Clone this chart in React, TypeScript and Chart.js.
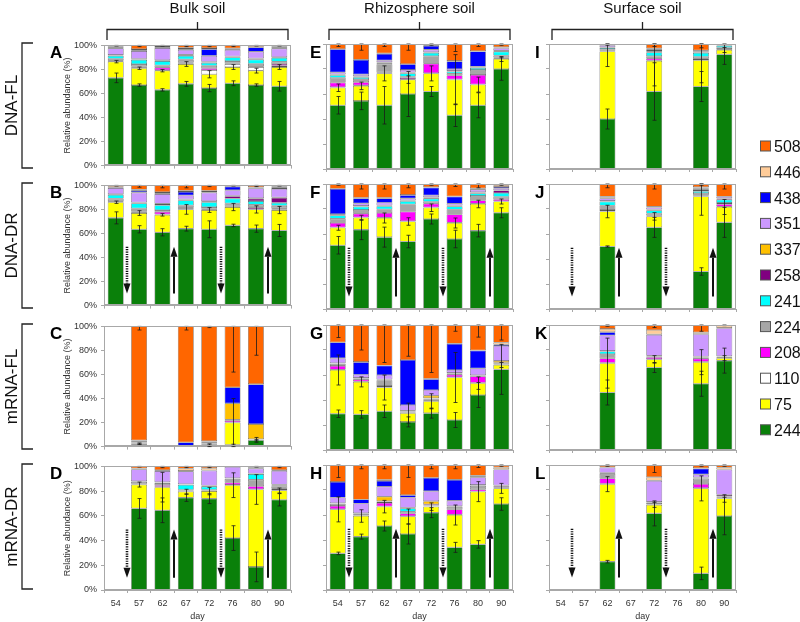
import React, { useEffect, useRef } from "react";
import { Chart, registerables } from "chart.js";

Chart.register(...registerables);

const FONT = "'Liberation Sans', Arial, Helvetica, sans-serif";

// ---------- data ----------
const days = ["54", "57", "62", "67", "72", "76", "80", "90"];
const otus = ["244", "75", "110", "208", "224", "241", "258", "337", "351", "438", "446", "508"];
const otuColors = ["#0A800A", "#FFFF00", "#FFFFFF", "#FF00FF", "#A6A6A6", "#00FFFF", "#800080", "#FFC000", "#CC99FF", "#0000FF", "#FFCC99", "#FF6600"];
const yTicks = [0, 20, 40, 60, 80, 100];

// each row: relative abundance (%) of [244,75,110,208,224,241,258,337,351,438,446,508]; null = no sample
type Row = number[] | null;
const panelA: Row[] = [
  [73, 13.5, 0.5, 0.3, 1.5, 2.5, 0.5, 0.3, 5.5, 0.5, 0.9, 1],
  [67, 14, 0.5, 1, 2, 3.5, 0.5, 0.3, 6.5, 0.7, 1, 3],
  [63, 16, 0.5, 2, 2, 3.5, 0.5, 0.3, 10, 0.7, 1, 0.5],
  [68, 16.5, 0.5, 0.8, 2.5, 3, 0.7, 0.3, 4, 0.7, 1, 2],
  [64.5, 11.5, 3.5, 1.5, 2, 2.5, 0.5, 0.3, 5, 5.5, 1, 2.2],
  [68.5, 13.5, 2.5, 0.5, 2, 3, 0.5, 0.3, 5.5, 0.7, 0.5, 2.5],
  [67, 12, 3, 0.7, 2, 3.5, 0.8, 0.3, 5.5, 3.5, 0.5, 1.2],
  [66, 16, 1, 1.5, 2, 3, 0.5, 0.3, 7, 0.7, 1, 1],
];
const panelE: Row[] = [
  [51, 14, 0.5, 3.5, 4, 2, 0.5, 0.3, 1.5, 18.5, 0.2, 4],
  [54.5, 12, 0.5, 2.5, 2.5, 1.5, 0.5, 0.3, 1.5, 11.5, 0.2, 12.5],
  [51, 25.5, 0.3, 0.5, 6.5, 0.5, 1, 0.2, 1.5, 5, 0.5, 7.5],
  [60, 11.5, 0.5, 1, 1, 2.5, 0.5, 0.3, 2, 4.5, 0.2, 16],
  [62, 14.5, 0.3, 7.5, 6, 2.5, 0.5, 0.2, 2, 3, 0.5, 1],
  [43, 28.5, 0.3, 3, 1.5, 1.5, 0.5, 0.2, 1.5, 6, 0.5, 13.5],
  [51, 16.5, 0.3, 7.5, 4, 1.5, 0.5, 0.2, 0.5, 12, 0.3, 5.7],
  [80, 8, 0.3, 1, 1.5, 3, 0.7, 0.2, 2, 0.3, 0.5, 2.5],
];
const panelI: Row[] = [
  null, null,
  [40, 54, 0.3, 0.5, 1, 1, 0.5, 0.2, 1.5, 0.3, 0.2, 0.5],
  null,
  [62, 24.5, 0.3, 1.5, 2, 3, 1, 0.2, 1, 0.5, 0.5, 3.5],
  null,
  [66, 21, 0.3, 1, 1.5, 3, 0.5, 0.2, 0.5, 0.5, 0.5, 5],
  [91.7, 3.5, 0.3, 0.5, 1, 1.5, 0.3, 0.2, 0.5, 0.2, 0.2, 0.1],
];
const panelB: Row[] = [
  [73, 13, 0.5, 0.5, 2, 3, 0.5, 0.3, 5, 0.5, 0.5, 1.2],
  [63.5, 13.5, 0.3, 1, 2.7, 4, 0.5, 0.5, 8, 1.5, 1, 3.5],
  [61, 14.5, 0.5, 2, 1.5, 4, 1, 0.3, 8, 0.7, 1, 5.5],
  [64, 16, 0.5, 1, 2, 4, 0.5, 0.3, 3.5, 2.7, 1, 4.5],
  [63.5, 16, 0.3, 0.7, 1.5, 4, 0.5, 0.5, 7, 0.5, 1, 4.5],
  [66.7, 15.3, 0.5, 0.5, 2, 4, 2, 0.3, 4.7, 3, 0.5, 0.5],
  [64, 16, 0.3, 1.2, 2.5, 3, 2, 0.5, 8, 0.5, 0.5, 1.5],
  [62.5, 17, 0.5, 1, 2, 2.5, 4, 0.5, 7, 1, 1, 1],
];
const panelF: Row[] = [
  [51, 14, 0.3, 3.5, 3.5, 2.5, 0.5, 0.2, 0.5, 20, 0.2, 3.8],
  [63.5, 9.5, 0.3, 3, 3, 2.5, 0.5, 0.2, 2, 4, 0.5, 11],
  [57.5, 15.3, 0.3, 3.7, 3, 2.5, 0.5, 0.2, 2, 3.5, 0.5, 11],
  [54, 16, 0.3, 7.5, 6, 2.5, 0.5, 0.2, 1.5, 2.5, 0.3, 8.7],
  [72, 9, 0.3, 3, 1.5, 2.5, 1, 0.2, 1.5, 6, 0.5, 2.5],
  [56, 12.8, 0.3, 6.5, 4, 2.5, 0.5, 0.2, 1.5, 5.5, 0.3, 9.9],
  [62.7, 21.3, 0.3, 2.5, 3.7, 2, 0.5, 0.5, 2, 0.5, 0.5, 3.5],
  [77, 9, 0.3, 1.5, 2, 3, 2, 0.3, 1.5, 1, 1, 1.4],
];
const panelJ: Row[] = [
  null, null,
  [50, 28, 0.3, 1, 3.5, 3, 0.5, 0.2, 2, 0.5, 1, 10],
  null,
  [65.3, 8.8, 0.3, 0.5, 1.5, 2.5, 0.5, 0.2, 1.5, 0.3, 0.5, 18.1],
  null,
  [30, 60, 0.3, 0.5, 2, 1.5, 1, 0.2, 1, 0.5, 0.5, 2.5],
  [69.3, 12.3, 0.3, 2, 1, 2.5, 1, 0.3, 1.3, 0, 0, 10],
];
const panelC: Row[] = [
  null,
  [1.5, 1, 0.3, 0.3, 0.3, 0, 1, 0.3, 0, 0.3, 0.3, 94.7],
  null,
  [0, 0, 0, 0, 0, 0, 0, 0, 0, 3.5, 0, 96.5],
  [0.3, 1.5, 0.3, 0.3, 0.3, 0, 1, 0.3, 0, 0.5, 0, 95.5],
  [1.5, 18.5, 0.3, 1.5, 0.3, 0, 0.3, 13.6, 0, 13.3, 0, 50.7],
  [5.3, 0.3, 0, 0, 0.3, 0, 0.3, 12.5, 0, 33, 0.3, 48],
  null,
];
const panelG: Row[] = [
  [29, 35, 0.3, 3, 1.5, 0.2, 0.3, 0.2, 4, 12.6, 0, 13.9],
  [28.5, 26, 0.3, 1.5, 0.5, 0.2, 0.5, 0.2, 2.5, 10, 0.3, 29.5],
  [31, 19, 0.3, 1, 4.5, 0.2, 0.3, 0.2, 3.5, 7.4, 0.2, 32.4],
  [22.5, 7, 0.3, 0.3, 0.3, 0.2, 0.5, 0.4, 4.5, 36, 0, 28],
  [29.5, 9.5, 0.5, 1, 0.5, 0.2, 0.3, 2, 4.5, 8.7, 0.3, 43],
  [24, 34, 0.3, 2, 0.5, 0.2, 0.5, 0.2, 2.3, 20.8, 0.4, 14.8],
  [44, 9.5, 0.3, 5, 0.5, 0.2, 0.3, 0.2, 5.3, 14.2, 0.3, 20.5],
  [64.5, 3.5, 0.2, 0.2, 1, 0.2, 0.2, 1.5, 12, 1.2, 1.5, 14],
];
const panelK: Row[] = [
  null, null,
  [46, 23.5, 0.3, 3.5, 3.5, 2, 0.3, 0.2, 12.5, 2.5, 2.6, 3.1],
  null,
  [66, 6.5, 0.3, 1.5, 0.3, 0.2, 0.5, 0.2, 16.5, 0.5, 3.5, 4],
  null,
  [53, 17.3, 0.3, 2.5, 1, 0.2, 0.3, 0.2, 17.9, 0.3, 1.2, 5.8],
  [71.5, 2, 0.2, 0.5, 0.5, 0.1, 0.2, 0.2, 22.3, 0.2, 1.8, 0.5],
];
const panelD: Row[] = [
  null,
  [66, 19.3, 0.3, 0.3, 1.5, 0.2, 0.3, 0.2, 9.4, 0.5, 0.5, 1.5],
  [64.5, 18.7, 0.3, 1.3, 1.7, 0.2, 0.3, 0.2, 9, 0.3, 0.5, 3],
  [74.7, 4.8, 1, 0.3, 0.3, 4, 0.3, 0.2, 10.4, 0.3, 2, 1.7],
  [73.9, 6.1, 0.3, 0.3, 0.5, 2.5, 0.7, 0.2, 12, 0.3, 1.8, 1.4],
  [42, 42.8, 0.2, 1.9, 3, 0.2, 0.2, 0.2, 9, 0.2, 0.3, 0],
  [18.7, 62.6, 0.3, 2.4, 5.3, 4.5, 0.2, 0.2, 4, 0.2, 0.8, 0.8],
  [73, 7.5, 0.5, 1, 2, 0.5, 0.5, 0.3, 11, 0.2, 0.5, 3],
];
const panelH: Row[] = [
  [29.3, 35.2, 0.3, 2.5, 1.5, 0.2, 0.3, 0.2, 4.5, 12.5, 0, 13.5],
  [42.7, 16.5, 0.3, 0.3, 0.3, 0.2, 1, 0.2, 7.7, 3.2, 0, 27.6],
  [51.2, 15.5, 0.3, 2.7, 1, 0.2, 0.3, 3.5, 8, 4.5, 1, 11.8],
  [44.8, 14, 0.4, 2, 1.5, 2.5, 0.5, 0.3, 8, 1.8, 0.2, 24],
  [61.9, 4.8, 0.2, 0.2, 0.3, 0.2, 1, 2.5, 8, 10.5, 0.2, 10.2],
  [34.1, 25.9, 0.3, 4.2, 2, 0.2, 0.3, 0.2, 4.3, 16.5, 0.3, 11.7],
  [36.5, 42.2, 0.3, 1.5, 2.7, 0.2, 0.5, 0.2, 6, 1, 0.5, 8.4],
  [68.8, 12.5, 0.3, 0.5, 0.3, 0.2, 1, 0.2, 12.7, 0.2, 1.5, 1.8],
];
const panelL: Row[] = [
  null, null,
  [22.7, 62, 0.3, 4.2, 3.7, 0.2, 0.5, 0.2, 4, 0.3, 0.3, 1.6],
  null,
  [61.3, 6.8, 0.2, 0.3, 1, 0.2, 0.5, 0.2, 16.8, 0.3, 2.7, 9.7],
  null,
  [13.3, 68, 0.3, 3.2, 4.3, 0.3, 0.5, 0.2, 2.4, 4.5, 0.5, 2.5],
  [59.2, 14, 0.3, 0.5, 0.8, 0.2, 1, 0.2, 20, 0.3, 1.5, 2],
];

// error bars (± %) on the tops of OTU 244, 75 and 508 segments
const errOtus = ["244", "75", "508"];
type Err = number[] | null;
const errA: Err[] = [[4, 1, 0.5], [1, 1, 1], [1, 1, 0.5], [2, 2, 1], [3, 3, 1], [2, 2, 1], [1, 2, 0.5], [4, 2, 0.5]];
const errE: Err[] = [[7, 3, 2], [7, 3, 5], [15, 6, 2], [18, 3, 5], [4, 6, 1], [9, 20, 6], [10, 6, 2], [9, 2, 1]];
const errI: Err[] = [null, null, [8, 12, 1], null, [23, 20, 2], null, [12, 18, 3], [8, 2, 0.5]];
const errB: Err[] = [[5, 1, 0.5], [3, 2, 1.5], [3, 1, 2], [2, 4, 2], [7, 2, 1], [1, 3, 0.5], [3, 3, 1], [5, 3, 0.5]];
const errF: Err[] = [[7, 2, 1], [8, 2, 4], [8, 4, 4], [5, 3, 3], [4, 3, 1], [7, 4, 2], [5, 3, 3], [4, 2, 1]];
const errJ: Err[] = [null, null, [0.5, 5, 3], null, [8, 3, 4], null, [3, 15, 1], [12, 6, 4]];
const errC: Err[] = [null, [0.5, 0.5, 3], null, [0, 0, 3], [0.5, 0.5, 1], [0.5, 20, 38], [0.5, 2, 24], null];
const errG: Err[] = [[3, 12, 10], [3, 4, 20], [5, 10, 30], [4, 8, 25], [4, 6, 38], [6, 20, 5], [10, 5, 10], [20, 2, 12]];
const errK: Err[] = [null, null, [10, 20, 1], null, [4, 3, 2], null, [10, 10, 5], [10, 2, 0.5]];
const errD: Err[] = [null, [8, 2, 0.5], [10, 12, 1], [3, 2, 1], [4, 3, 1], [10, 10, 0.5], [12, 12, 0.5], [5, 2, 1]];
const errH: Err[] = [[1, 10, 10], [2, 5, 3], [4, 5, 3], [8, 6, 10], [4, 3, 3], [4, 8, 3], [3, 8, 2], [5, 4, 1]];
const errL: Err[] = [null, null, [1, 6, 1], null, [10, 2, 6], null, [5, 10, 1], [15, 3, 1]];

// arrows in the DR rows: after which day index, and direction
const arrowMarks = [
  { after: 0, kind: "down" },
  { after: 2, kind: "up" },
  { after: 4, kind: "down" },
  { after: 6, kind: "up" },
];
const arrowRange = [10, 49];

const colTitles = ["Bulk soil", "Rhizosphere soil", "Surface soil"];
const rowTitles = ["DNA-FL", "DNA-DR", "mRNA-FL", "mRNA-DR"];

const panels = [
  { letter: "A", rows: panelA, errs: errA, col: 0, row: 0 },
  { letter: "E", rows: panelE, errs: errE, col: 1, row: 0 },
  { letter: "I", rows: panelI, errs: errI, col: 2, row: 0 },
  { letter: "B", rows: panelB, errs: errB, col: 0, row: 1 },
  { letter: "F", rows: panelF, errs: errF, col: 1, row: 1 },
  { letter: "J", rows: panelJ, errs: errJ, col: 2, row: 1 },
  { letter: "C", rows: panelC, errs: errC, col: 0, row: 2 },
  { letter: "G", rows: panelG, errs: errG, col: 1, row: 2 },
  { letter: "K", rows: panelK, errs: errK, col: 2, row: 2 },
  { letter: "D", rows: panelD, errs: errD, col: 0, row: 3 },
  { letter: "H", rows: panelH, errs: errH, col: 1, row: 3 },
  { letter: "L", rows: panelL, errs: errL, col: 2, row: 3 },
];

// ---------- layout ----------
const colLeft = [104, 326, 549];
const rowTop = [44, 184, 325, 465];
const PW = 187;
const PH = 125;
const PAD_T = 8;
const PAD_R = 4;
const letterX = [50, 310, 535];

function drawArrow(ctx: CanvasRenderingContext2D, x: number, yTail: number, yTip: number, dotted: boolean) {
  const dir = Math.sign(yTip - yTail);
  const headLen = 10;
  const headW = 3.5;
  ctx.save();
  ctx.strokeStyle = "#111";
  ctx.fillStyle = "#111";
  ctx.lineWidth = dotted ? 2.6 : 2;
  if (dotted) ctx.setLineDash([1.2, 1.2]);
  ctx.beginPath();
  ctx.moveTo(x, yTail);
  ctx.lineTo(x, yTip - dir * headLen);
  ctx.stroke();
  ctx.setLineDash([]);
  ctx.beginPath();
  ctx.moveTo(x, yTip);
  ctx.lineTo(x - headW, yTip - dir * headLen);
  ctx.lineTo(x + headW, yTip - dir * headLen);
  ctx.closePath();
  ctx.fill();
  ctx.restore();
}

function Panel({ def }: { def: (typeof panels)[number] }) {
  const ref = useRef<HTMLCanvasElement | null>(null);
  const { col, row } = def;
  const YW = col === 0 ? 42 : 8;
  const XH = row === 3 ? 32 : 6;
  const left = colLeft[col] - YW;
  const top = rowTop[row] - PAD_T;
  const w = YW + PW + PAD_R;
  const h = PAD_T + PH + XH;
  const isDR = row === 1 || row === 3;

  useEffect(() => {
    if (!ref.current) return;
    const rows = def.rows;
    const errs = def.errs;
    const errIdx = errOtus.map((o) => otus.indexOf(o));

    const overlay = {
      id: "overlay",
      afterDatasetsDraw(chart: any) {
        const ctx: CanvasRenderingContext2D = chart.ctx;
        const xs = chart.scales.x;
        const ys = chart.scales.y;
        const a = chart.chartArea;
        // error bars
        ctx.save();
        ctx.strokeStyle = "#1a1a1a";
        ctx.lineWidth = 0.8;
        rows.forEach((r, i) => {
          const e = errs[i];
          if (!r || !e) return;
          const px = Math.round(xs.getPixelForValue(i)) + 0.5;
          errIdx.forEach((k, j) => {
            if (!(r[k] > 0) || !(e[j] > 0)) return;
            let cum = 0;
            for (let q = 0; q <= k; q++) cum += r[q];
            const y1 = ys.getPixelForValue(Math.min(100, cum + e[j]));
            const y2 = ys.getPixelForValue(Math.max(0, cum - e[j]));
            ctx.beginPath();
            ctx.moveTo(px, y1);
            ctx.lineTo(px, y2);
            ctx.moveTo(px - 2, y1);
            ctx.lineTo(px + 2, y1);
            ctx.moveTo(px - 2, y2);
            ctx.lineTo(px + 2, y2);
            ctx.stroke();
          });
        });
        ctx.restore();
        // arrows
        if (isDR) {
          arrowMarks.forEach((m) => {
            const x = Math.round((xs.getPixelForValue(m.after) + xs.getPixelForValue(m.after + 1)) / 2);
            const yLow = ys.getPixelForValue(arrowRange[0]);
            const yHigh = ys.getPixelForValue(arrowRange[1]);
            if (m.kind === "down") drawArrow(ctx, x, yHigh, yLow, true);
            else drawArrow(ctx, x, yLow, yHigh, false);
          });
        }
        // frame
        ctx.save();
        ctx.strokeStyle = "#A8A8A8";
        ctx.lineWidth = 1;
        ctx.strokeRect(Math.round(a.left) + 0.5, Math.round(a.top) + 0.5, Math.round(a.right - a.left) - 1, Math.round(a.bottom - a.top) - 1);
        ctx.restore();
      },
    };

    const chart = new Chart(ref.current, {
      type: "bar",
      data: {
        labels: days,
        datasets: otus.map((o, k) => ({
          label: o,
          data: rows.map((r) => (r ? r[k] : null)),
          backgroundColor: otuColors[k],
          borderColor: "rgba(60,60,60,0.85)",
          borderWidth: 0.6,
          borderSkipped: false,
          barPercentage: 0.68,
          categoryPercentage: 1,
        })),
      },
      options: {
        animation: false,
        responsive: false,
        maintainAspectRatio: false,
        devicePixelRatio: 1,
        layout: { padding: { top: PAD_T, right: PAD_R, left: 0, bottom: 0 } },
        plugins: { legend: { display: false }, tooltip: { enabled: false } },
        scales: {
          x: {
            stacked: true,
            offset: true,
            grid: { display: true, drawOnChartArea: false, drawTicks: true, tickLength: 3, offset: true, color: "#A8A8A8" },
            border: { color: "#A8A8A8" },
            ticks: { display: row === 3, padding: 5, color: "#333", font: { family: FONT, size: 9 } },
            title: { display: row === 3, text: "day", color: "#333", padding: { top: 0, bottom: 0 }, font: { family: FONT, size: 9 } },
            afterFit: (s: any) => {
              s.height = XH;
            },
          },
          y: {
            stacked: true,
            min: 0,
            max: 100,
            afterBuildTicks: (s: any) => {
              s.ticks = yTicks.map((v) => ({ value: v }));
            },
            grid: { display: true, drawOnChartArea: false, drawTicks: true, tickLength: 3, color: "#A8A8A8" },
            border: { color: "#A8A8A8" },
            ticks: {
              display: col === 0,
              padding: 4,
              color: "#333",
              font: { family: FONT, size: 9 },
              callback: (v: any) => v + "%",
            },
            title: {
              display: col === 0,
              text: "Relative abundance (%)",
              color: "#333",
              padding: { top: 0, bottom: 0 },
              font: { family: FONT, size: 9 },
            },
            afterFit: (s: any) => {
              s.width = YW;
            },
          },
        },
      },
      plugins: [overlay],
    } as any);
    return () => chart.destroy();
  }, []);

  return (
    <canvas
      ref={ref}
      width={w}
      height={h}
      style={{ position: "absolute", left, top, width: w, height: h, display: "block" }}
    />
  );
}

export default function App() {
  const legendTop = 146;
  const legendStep = 25.8;
  const legendItems = otus.map((o, k) => ({ o, color: otuColors[k] })).reverse();
  return (
    <div style={{ position: "absolute", left: 0, top: 0, width: 800, height: 622, background: "#fff", overflow: "hidden", fontFamily: FONT }}>
      {panels.map((p) => (
        <Panel key={p.letter} def={p} />
      ))}
      <svg width={800} height={622} style={{ position: "absolute", left: 0, top: 0, pointerEvents: "none" }}>
        {colTitles.map((t, c) => {
          const x0 = colLeft[c] + 3;
          const x1 = colLeft[c] + PW - 3;
          const xc = (x0 + x1) / 2;
          return (
            <g key={t}>
              <text x={xc} y={13} fontSize={15} textAnchor="middle" fill="#111" fontFamily={FONT}>
                {t}
              </text>
              <path d={`M${x0},40 V29.5 H${x1} V40 M${xc},29.5 V22`} stroke="#222" strokeWidth={1.3} fill="none" />
            </g>
          );
        })}
        {rowTitles.map((t, r) => {
          const y0 = rowTop[r] - 1;
          const y1 = rowTop[r] + PH - 1;
          const yc = (y0 + y1) / 2;
          return (
            <g key={t}>
              <text x={11} y={yc} fontSize={17} textAnchor="middle" dominantBaseline="central" fill="#111" fontFamily={FONT} transform={`rotate(-90 11 ${yc})`}>
                {t}
              </text>
              <path d={`M33,${y0} H22 V${y1} H33`} stroke="#222" strokeWidth={1.3} fill="none" />
            </g>
          );
        })}
        {panels.map((p) => (
          <text key={"l" + p.letter} x={letterX[p.col]} y={rowTop[p.row] + 14} fontSize={17} fontWeight="bold" fill="#000" fontFamily={FONT}>
            {p.letter}
          </text>
        ))}
        {legendItems.map((it, i) => {
          const cy = legendTop + i * legendStep;
          return (
            <g key={"lg" + it.o}>
              <rect x={760.5} y={cy - 5} width={10} height={10} fill={it.color} stroke="#555" strokeWidth={1} />
              <text x={774} y={cy + 6} fontSize={16} fill="#111" fontFamily={FONT}>
                {it.o}
              </text>
            </g>
          );
        })}
      </svg>
    </div>
  );
}
